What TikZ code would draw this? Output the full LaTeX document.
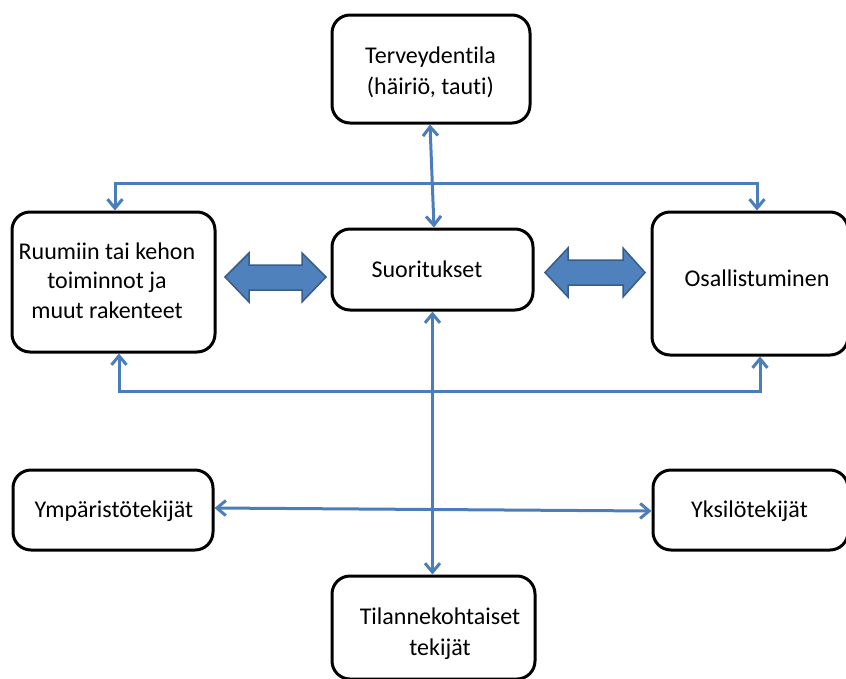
\documentclass[tikz,border=0pt]{standalone}
\usepackage{fontspec}
\setmainfont{Carlito}[Ligatures={NoCommon,NoContextual}]
\usetikzlibrary{arrows.meta}
\definecolor{lineblue}{HTML}{4A7EBB}
\definecolor{arrowfill}{HTML}{4F81BD}
\definecolor{arrowedge}{HTML}{385D8A}
\begin{document}
\begin{tikzpicture}[x=1pt,y=-1pt,
  box/.style={draw=black, line width=3pt, rounded corners=18pt, fill=white, inner sep=0pt},
  txt/.style={font=\fontsize{24}{30}\selectfont, inner sep=0pt, anchor=base},
  conn/.style={draw=lineblue, line width=3pt,
    {Straight Barb[length=9pt,width=15pt]}-{Straight Barb[length=9pt,width=15pt]}},
  blockarrow/.style={fill=arrowfill, draw=arrowedge, line width=1.5pt, line join=miter}]
\useasboundingbox (0,0) rectangle (846,678);

% boxes
\node[box, minimum width=198pt, minimum height=108pt] (terv) at (431,69) {};
\node[box, minimum width=201pt, minimum height=81pt] (suor) at (432.5,269.5) {};
\node[box, minimum width=203pt, minimum height=140pt] (ruum) at (113.5,282) {};
\node[box, minimum width=196pt, minimum height=143pt] (osal) at (750,283.5) {};
\node[box, minimum width=200pt, minimum height=80pt] (ymp) at (113,510) {};
\node[box, minimum width=195pt, minimum height=80pt] (yks) at (750.5,510) {};
\node[box, minimum width=203pt, minimum height=103pt] (tilan) at (433.5,627.5) {};

% texts
\node[txt] (tterv) at (430.5,63) {\begin{tabular}[t]{@{}c@{}}Terveydentila\\[1pt](häiriö, tauti)\end{tabular}};
\node[txt] (tsuor) at (427,277) {Suoritukset};
\node[txt] (truum) at (107,259) {\begin{tabular}[t]{@{}c@{}}Ruumiin tai kehon\\[-0.5pt]toiminnot ja\\[-0.5pt]muut rakenteet\end{tabular}};
\node[txt] (tosal) at (757,286) {Osallistuminen};
\node[txt] (tymp) at (114,517) {Ympäristötekijät};
\node[txt] (tyks) at (749.5,517) {Yksilötekijät};
\node[txt] (ttilan) at (440,624) {\begin{tabular}[t]{@{}c@{}}Tilannekohtaiset\\[1pt]tekijät\end{tabular}};

% block arrows
\path[blockarrow] (225,277) -- (249,253) -- (249,265) -- (302,265) -- (302,253) -- (326,277)
  -- (302,302) -- (302,290) -- (249,290) -- (249,302) -- cycle;
\path[blockarrow] (545,272.5) -- (568,248) -- (568,260) -- (623,260) -- (623,248) -- (645,272.5)
  -- (623,297) -- (623,285) -- (568,285) -- (568,297) -- cycle;

% connectors
\draw[conn] ([xshift=-1pt]terv.south) -- ([xshift=1.5pt]suor.north);
\draw[conn] ([xshift=1.5pt]ruum.north) -- ++(0,-27) -| ([xshift=7pt]osal.north);
\draw[conn] ([xshift=5.5pt]ruum.south) -- ++(0,38) -| ([xshift=10pt]osal.south);
\draw[conn] (suor.south) -- (suor.south |- tilan.north);
\draw[conn] ([yshift=2pt]ymp.east) -- ([yshift=-1pt]yks.west);
\end{tikzpicture}
\end{document}
